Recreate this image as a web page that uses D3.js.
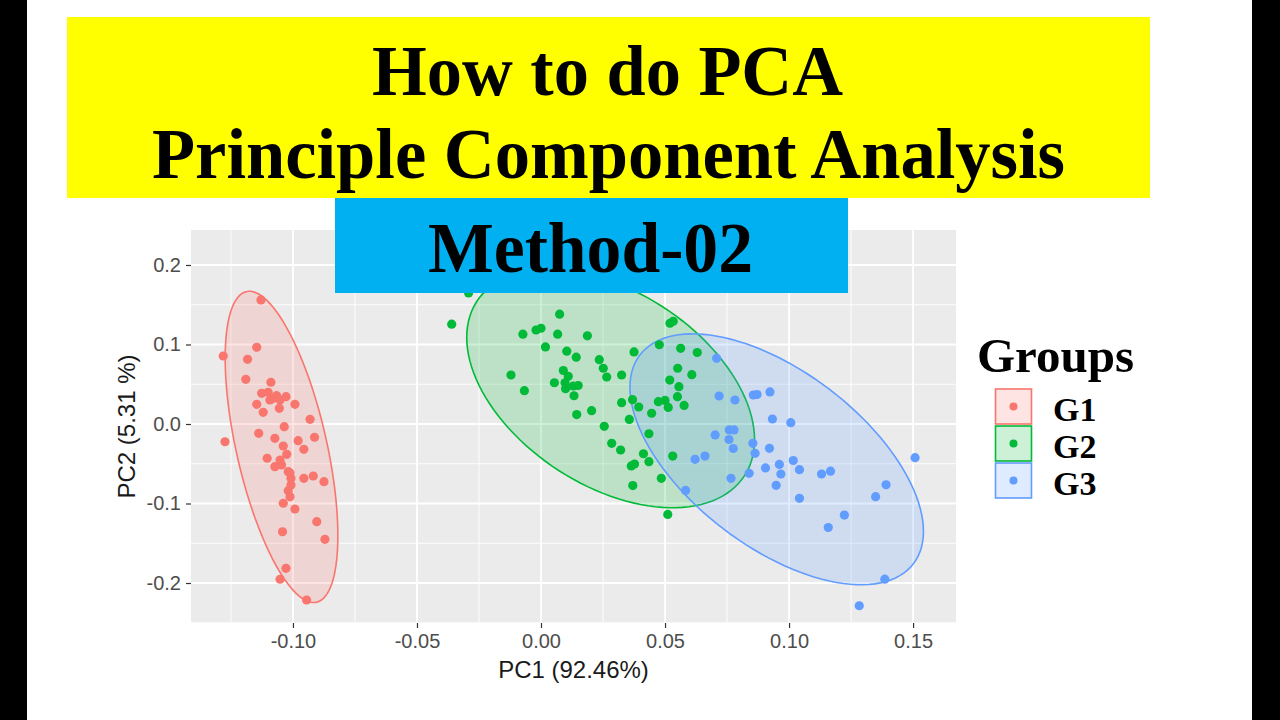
<!DOCTYPE html>
<html><head><meta charset="utf-8">
<script src="https://cdn.jsdelivr.net/npm/d3@7"></script>
<style>html,body{margin:0;padding:0;background:#fff;}svg{display:block;}</style>
</head><body>
<svg id="chart" width="1280" height="720"></svg>
<script>
// ---------- data (PC1, PC2) ----------
const groups = ["G1", "G2", "G3"];
const groupColors = ["#F8766D", "#00BA38", "#619CFF"];

const g1PC1 = [-0.1129,-0.1146,-0.1281,-0.1183,-0.1190,-0.1089,-0.1126,-0.1100,-0.1066,-0.1028,-0.1079,-0.1146,-0.1120,-0.1055,-0.0992,-0.1052,-0.0931,-0.1035,-0.1138,-0.1274,-0.1073,-0.0979,-0.0913,-0.0956,-0.1039,-0.1025,-0.1104,-0.1073,-0.1046,-0.1019,-0.1008,-0.0956,-0.0918,-0.0875,-0.1008,-0.1019,-0.1012,-0.1039,-0.0992,-0.0904,-0.1042,-0.0871,-0.1028,-0.1052,-0.0945,-0.1052,-0.1093,-0.1012];
const g1PC2 = [0.1560,0.0965,0.0855,0.0814,0.0562,0.0525,0.0386,0.0399,0.0356,0.0343,0.0323,0.0248,0.0147,0.0197,0.0248,0.0302,0.0059,-0.0034,-0.0117,-0.0223,-0.0180,-0.0210,-0.0167,-0.0318,-0.0277,-0.0381,-0.0431,-0.0537,-0.0516,-0.0600,-0.0683,-0.0683,-0.0654,-0.0726,-0.0767,-0.0839,-0.0914,-0.0997,-0.1069,-0.1229,-0.1355,-0.1450,-0.1815,-0.1953,-0.2214,-0.0453,0.0302,-0.0616];

const g2PC1 = [-0.0292,-0.0360,0.0075,-0.0073,-0.0020,0.0000,0.0067,0.0187,0.0018,0.0104,0.0142,0.0235,0.0251,0.0265,-0.0121,0.0090,0.0110,0.0054,0.0097,0.0130,0.0150,0.0099,0.0133,-0.0067,0.0325,0.0375,0.0477,0.0520,0.0533,0.0563,0.0630,0.0551,0.0608,0.0519,0.0556,0.0550,0.0577,0.0325,0.0369,0.0394,0.0446,0.0473,0.0500,0.0513,0.0144,0.0204,0.0356,0.0255,0.0435,0.0285,0.0321,0.0413,0.0435,0.0531,0.0364,0.0485,0.0370,0.0511,0.0377];
const g2PC2 = [0.1648,0.1255,0.1381,0.1130,0.1182,0.1204,0.1130,0.1109,0.0969,0.0916,0.0840,0.0809,0.0701,0.0591,0.0616,0.0673,0.0600,0.0519,0.0519,0.0478,0.0484,0.0444,0.0355,0.0419,0.0616,0.0906,0.0997,0.1267,0.1292,0.0952,0.0899,0.0701,0.0620,0.0553,0.0469,0.0343,0.0233,0.0268,0.0306,0.0214,0.0135,0.0281,0.0296,0.0208,0.0119,0.0167,0.0057,-0.0029,-0.0123,-0.0243,-0.0327,-0.0374,-0.0474,-0.0403,-0.0528,-0.0683,-0.0774,-0.1138,-0.0503];

const g3PC1 = [0.0708,0.0718,0.0782,0.0856,0.0923,0.0933,0.1007,0.0702,0.0759,0.0778,0.0758,0.0775,0.0854,0.0863,0.0921,0.0621,0.0661,0.0905,0.0961,0.0967,0.0948,0.0766,0.0839,0.1017,0.1042,0.1042,0.1131,0.1167,0.1508,0.1391,0.1349,0.1223,0.1158,0.0583,0.1386,0.1283,0.0871];
const g3PC2 = [0.0826,0.0352,0.0302,0.0365,0.0403,0.0063,0.0016,-0.0138,-0.0075,-0.0075,-0.0195,-0.0308,-0.0243,-0.0369,-0.0306,-0.0444,-0.0403,-0.0553,-0.0509,-0.0629,-0.0771,-0.0683,-0.0620,-0.0459,-0.0575,-0.0935,-0.0629,-0.0594,-0.0424,-0.0764,-0.0914,-0.1145,-0.1302,-0.0836,-0.1952,-0.2286,0.0371];

const xTickValues = [-0.10, -0.05, 0.00, 0.05, 0.10, 0.15];
const xTickLabels = ["-0.10", "-0.05", "0.00", "0.05", "0.10", "0.15"];
const yTickValues = [-0.2, -0.1, 0.0, 0.1, 0.2];
const yTickLabels = ["-0.2", "-0.1", "0.0", "0.1", "0.2"];
const xMinor = [-0.125, -0.075, -0.025, 0.025, 0.075, 0.125];
const yMinor = [-0.25, -0.15, -0.05, 0.05, 0.15];

const xTitle = "PC1 (92.46%)";
const yTitle = "PC2 (5.31 %)";
const legendTitle = "Groups";
const titleLine1 = "How to do PCA";
const titleLine2 = "Principle Component Analysis";
const titleLine3 = "Method-02";

// ---------- build ----------
const svg = d3.select("#chart");
const W = 1280, H = 720;
svg.append("rect").attr("width", W).attr("height", H).attr("fill", "#fff");
svg.append("rect").attr("x", 0).attr("y", 0).attr("width", 27).attr("height", H).attr("fill", "#000");
svg.append("rect").attr("x", 1252).attr("y", 0).attr("width", 28).attr("height", H).attr("fill", "#000");

const panel = {left: 191, right: 956, top: 230, bottom: 623};
const x = d3.scaleLinear().domain([-0.1411, 0.1673]).range([panel.left, panel.right]);
const y = d3.scaleLinear().domain([-0.2503, 0.244]).range([panel.bottom, panel.top]);

svg.append("rect").attr("x", panel.left).attr("y", panel.top)
  .attr("width", panel.right - panel.left).attr("height", panel.bottom - panel.top)
  .attr("fill", "#EBEBEB");

const grid = svg.append("g");
grid.selectAll(".xmin").data(xMinor).join("line")
  .attr("x1", d => x(d)).attr("x2", d => x(d)).attr("y1", panel.top).attr("y2", panel.bottom)
  .attr("stroke", "#fff").attr("stroke-width", 0.9);
grid.selectAll(".ymin").data(yMinor).join("line")
  .attr("y1", d => y(d)).attr("y2", d => y(d)).attr("x1", panel.left).attr("x2", panel.right)
  .attr("stroke", "#fff").attr("stroke-width", 0.9);
grid.selectAll(".xmaj").data(xTickValues).join("line")
  .attr("x1", d => x(d)).attr("x2", d => x(d)).attr("y1", panel.top).attr("y2", panel.bottom)
  .attr("stroke", "#fff").attr("stroke-width", 1.8);
grid.selectAll(".ymaj").data(yTickValues).join("line")
  .attr("y1", d => y(d)).attr("y2", d => y(d)).attr("x1", panel.left).attr("x2", panel.right)
  .attr("stroke", "#fff").attr("stroke-width", 1.8);

// ---------- 95% confidence ellipses (normal, sample covariance) ----------
function ellipsePath(px, py) {
  const n = px.length;
  const mx = d3.mean(px), my = d3.mean(py);
  let a = 0, b = 0, c = 0;
  for (let i = 0; i < n; i++) {
    const dx = px[i] - mx, dy = py[i] - my;
    a += dx * dx; b += dx * dy; c += dy * dy;
  }
  a /= (n - 1); b /= (n - 1); c /= (n - 1);
  const d2 = n - 1;
  const fq = (d2 / 2) * (Math.pow(0.05, -2 / d2) - 1);   // qf(0.95, 2, n-1)
  const r = Math.sqrt(2 * fq);
  const r11 = Math.sqrt(a), r12 = b / r11, r22 = Math.sqrt(c - r12 * r12);
  const pts = d3.range(0, 121).map(k => {
    const t = 2 * Math.PI * k / 120;
    const u = Math.cos(t), v = Math.sin(t);
    return [x(mx + r * u * r11), y(my + r * (u * r12 + v * r22))];
  });
  return d3.line()(pts) + "Z";
}

const dataX = [g1PC1, g2PC1, g3PC1];
const dataY = [g1PC2, g2PC2, g3PC2];

const ellG = svg.append("g");
groups.forEach((g, i) => {
  ellG.append("path").attr("d", ellipsePath(dataX[i], dataY[i]))
    .attr("fill", groupColors[i]).attr("fill-opacity", 0.2)
    .attr("stroke", groupColors[i]).attr("stroke-width", 1.6);
});

const ptG = svg.append("g");
groups.forEach((g, i) => {
  const pts = dataX[i].map((v, k) => [v, dataY[i][k]]);
  ptG.selectAll(".p" + i).data(pts).join("circle")
    .attr("cx", d => x(d[0])).attr("cy", d => y(d[1])).attr("r", 4.6)
    .attr("fill", groupColors[i]);
});

// ---------- axes ----------
const xAxis = d3.axisBottom(x).tickValues(xTickValues)
  .tickFormat((d, i) => xTickLabels[i]).tickSize(5).tickPadding(6);
const xg = svg.append("g").attr("transform", `translate(0,${panel.bottom})`).call(xAxis);
xg.select(".domain").remove();
xg.selectAll(".tick line").attr("stroke", "#333").attr("stroke-width", 1.2);
xg.selectAll(".tick text").attr("fill", "#4D4D4D")
  .style("font-family", "'Liberation Sans', Arial, sans-serif").style("font-size", "20px");

const yAxis = d3.axisLeft(y).tickValues(yTickValues)
  .tickFormat((d, i) => yTickLabels[i]).tickSize(5).tickPadding(5);
const yg = svg.append("g").attr("transform", `translate(${panel.left},0)`).call(yAxis);
yg.select(".domain").remove();
yg.selectAll(".tick line").attr("stroke", "#333").attr("stroke-width", 1.2);
yg.selectAll(".tick text").attr("fill", "#4D4D4D")
  .style("font-family", "'Liberation Sans', Arial, sans-serif").style("font-size", "20px");

svg.append("text").attr("x", (panel.left + panel.right) / 2).attr("y", 678)
  .attr("text-anchor", "middle").attr("fill", "#1a1a1a")
  .style("font-family", "'Liberation Sans', Arial, sans-serif").style("font-size", "24px")
  .text(xTitle);
svg.append("text").attr("transform", `translate(135,${(panel.top + panel.bottom) / 2}) rotate(-90)`)
  .attr("text-anchor", "middle").attr("fill", "#1a1a1a")
  .style("font-family", "'Liberation Sans', Arial, sans-serif").style("font-size", "24px")
  .text(yTitle);

// ---------- legend ----------
const serif = "'Liberation Serif', 'Times New Roman', serif";
svg.append("text").attr("x", 977).attr("y", 372)
  .style("font-family", serif).style("font-weight", "bold").style("font-size", "49px")
  .attr("fill", "#000").text(legendTitle);
const leg = svg.append("g");
groups.forEach((g, i) => {
  const top = 389 + i * 37;
  leg.append("rect").attr("x", 995.5).attr("y", top).attr("width", 36).attr("height", 35)
    .attr("fill", groupColors[i]).attr("fill-opacity", 0.2)
    .attr("stroke", groupColors[i]).attr("stroke-width", 1.6);
  leg.append("circle").attr("cx", 1013.5).attr("cy", top + 17.5).attr("r", 4).attr("fill", groupColors[i]);
  leg.append("text").attr("x", 1053).attr("y", top + 32)
    .style("font-family", serif).style("font-weight", "bold").style("font-size", "34px")
    .attr("fill", "#000").text(g);
});

// ---------- title banners ----------
svg.append("rect").attr("x", 67).attr("y", 17).attr("width", 1083).attr("height", 181).attr("fill", "#FFFF00");
svg.append("rect").attr("x", 335).attr("y", 198).attr("width", 513).attr("height", 95).attr("fill", "#00B0F0");
const tStyle = sel => sel.style("font-family", serif).style("font-weight", "bold")
  .style("font-size", "72px").attr("fill", "#000").attr("lengthAdjust", "spacingAndGlyphs");
svg.append("text").attr("x", 372).attr("y", 95).attr("textLength", 471).call(tStyle).text(titleLine1);
svg.append("text").attr("x", 152).attr("y", 178).attr("textLength", 913).call(tStyle).text(titleLine2);
svg.append("text").attr("x", 428).attr("y", 272).attr("textLength", 325).call(tStyle).text(titleLine3);
</script>
</body></html>
